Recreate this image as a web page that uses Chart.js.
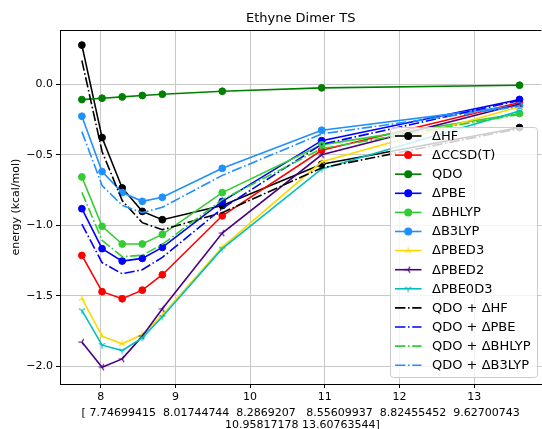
<!DOCTYPE html>
<html>
<head>
<meta charset="utf-8">
<script src="https://cdn.jsdelivr.net/npm/chart.js@4.4.1/dist/chart.umd.min.js"></script>
<style>
html,body{margin:0;padding:0;background:#fff;overflow:hidden;}
#wrap{width:542px;height:429px;overflow:hidden;position:relative;}
canvas{display:block;}
</style>
</head>
<body>
<div id="wrap"><canvas id="c" width="548" height="432" style="width:548px;height:432px"></canvas></div>
<script>
// ---- data ----
const distances = [7.74699415, 8.01744744, 8.2869207, 8.55609937, 8.82455452, 9.62700743, 10.95817178, 13.60763544];
const dHF     = [0.277, -0.378, -0.735, -0.901, -0.960, -0.860, -0.567, -0.307];
const dCCSDT  = [-1.213, -1.470, -1.520, -1.459, -1.350, -0.932, -0.468, -0.130];
const qdo     = [-0.109, -0.099, -0.090, -0.080, -0.071, -0.050, -0.026, -0.007];
const dPBE    = [-0.882, -1.165, -1.253, -1.234, -1.156, -0.830, -0.400, -0.108];
const dBHLYP  = [-0.657, -1.007, -1.132, -1.132, -1.064, -0.768, -0.430, -0.207];
const dB3LYP  = [-0.227, -0.619, -0.768, -0.830, -0.801, -0.596, -0.326, -0.150];
const dPBED3  = [-1.518, -1.785, -1.839, -1.773, -1.635, -1.154, -0.550, -0.160];
const dPBED2  = [-1.827, -2.005, -1.946, -1.785, -1.591, -1.055, -0.500, -0.140];
const dPBE0D3 = [-1.603, -1.849, -1.887, -1.797, -1.648, -1.165, -0.600, -0.190];
const qdoHF    = [0.168, -0.477, -0.825, -0.981, -1.031, -0.910, -0.593, -0.314];
const qdoPBE   = [-0.991, -1.264, -1.343, -1.314, -1.227, -0.880, -0.426, -0.115];
const qdoBHLYP = [-0.766, -1.106, -1.222, -1.212, -1.135, -0.818, -0.456, -0.214];
const qdoB3LYP = [-0.336, -0.718, -0.858, -0.910, -0.872, -0.646, -0.352, -0.157];
const xTicks = [8, 9, 10, 11, 12, 13];
const yTicks = [-2.0, -1.5, -1.0, -0.5, 0.0];
const chartTitle = 'Ethyne Dimer TS';
const yLabel = 'energy (kcal/mol)';
const xLabel = ['[ 7.74699415  8.01744744  8.2869207   8.55609937  8.82455452  9.62700743', ' 10.95817178 13.60763544]'];

// ---- styling ----
const FONT = 'DejaVu Sans';
const DASHDOT = [10.4, 2.6, 1.6, 2.6];
function triMarker(color, angles) {
  const c = document.createElement('canvas');
  c.width = 10; c.height = 10;
  const g = c.getContext('2d');
  g.strokeStyle = color; g.lineWidth = 1.1; g.lineCap = 'butt';
  g.beginPath();
  angles.forEach(a => {
    const r = a * Math.PI / 180;
    g.moveTo(5, 5);
    g.lineTo(5 + 3.6 * Math.cos(r), 5 - 3.6 * Math.sin(r));
  });
  g.stroke();
  return c;
}
const TRI_UP = [90, 210, 330];
const TRI_DOWN = [270, 30, 150];
const TRI_LEFT = [180, 60, 300];

function pts(arr) { return arr.map((v, i) => ({x: distances[i], y: v})); }

const series = [
  {label: 'ΔHF', data: dHF, color: '#000000', marker: 'circle'},
  {label: 'ΔCCSD(T)', data: dCCSDT, color: '#ff0000', marker: 'circle'},
  {label: 'QDO', data: qdo, color: '#008000', marker: 'circle'},
  {label: 'ΔPBE', data: dPBE, color: '#0000ff', marker: 'circle'},
  {label: 'ΔBHLYP', data: dBHLYP, color: '#32cd32', marker: 'circle'},
  {label: 'ΔB3LYP', data: dB3LYP, color: '#1e90ff', marker: 'circle'},
  {label: 'ΔPBED3', data: dPBED3, color: '#ffd700', marker: TRI_UP},
  {label: 'ΔPBED2', data: dPBED2, color: '#4b0082', marker: TRI_LEFT},
  {label: 'ΔPBE0D3', data: dPBE0D3, color: '#00bfbf', marker: TRI_DOWN},
  {label: 'QDO + ΔHF', data: qdoHF, color: '#000000', marker: null, dash: true},
  {label: 'QDO + ΔPBE', data: qdoPBE, color: '#0000ff', marker: null, dash: true},
  {label: 'QDO + ΔBHLYP', data: qdoBHLYP, color: '#32cd32', marker: null, dash: true},
  {label: 'QDO + ΔB3LYP', data: qdoB3LYP, color: '#1e90ff', marker: null, dash: true}
];

const datasets = series.map((s, i) => {
  const ds = {
    label: s.label,
    data: pts(s.data),
    borderColor: s.color,
    backgroundColor: s.color,
    borderWidth: 1.6,
    borderDash: s.dash ? DASHDOT : [],
    tension: 0,
    fill: false,
    order: series.length - i
  };
  if (s.marker === 'circle') {
    ds.pointStyle = 'circle'; ds.pointRadius = 3.4; ds.pointBorderWidth = 1;
    ds.pointBackgroundColor = s.color; ds.pointBorderColor = s.color;
  } else if (s.marker) {
    ds.pointStyle = triMarker(s.color, s.marker); ds.pointRadius = 5;
  } else {
    ds.pointRadius = 0;
  }
  ds.pointHoverRadius = ds.pointRadius;
  return ds;
});

const extrasPlugin = {
  id: 'extras',
  afterDraw(chart) {
    const ctx = chart.ctx, a = chart.chartArea;
    ctx.save();
    // top spine
    ctx.strokeStyle = '#000'; ctx.lineWidth = 1;
    ctx.beginPath(); ctx.moveTo(a.left, a.top + 0.5); ctx.lineTo(a.right, a.top + 0.5); ctx.stroke();
    // title
    ctx.fillStyle = '#000';
    ctx.font = '13px "' + FONT + '"';
    ctx.textAlign = 'center'; ctx.textBaseline = 'middle';
    ctx.fillText(chartTitle, (a.left + a.right) / 2, 19);
    // legend
    const bx = 390, by = 127, bw = 147, bh = 250;
    ctx.beginPath();
    ctx.roundRect(bx + 0.5, by + 0.5, bw, bh, 3);
    ctx.fillStyle = 'rgba(255,255,255,0.8)';
    ctx.fill();
    ctx.strokeStyle = '#cccccc'; ctx.lineWidth = 1;
    ctx.stroke();
    ctx.font = '13px "' + FONT + '"';
    ctx.textAlign = 'left'; ctx.textBaseline = 'middle';
    chart.data.datasets.forEach((ds, i) => {
      const y = 136 + i * 19.1;
      ctx.strokeStyle = ds.borderColor; ctx.lineWidth = ds.borderWidth;
      ctx.setLineDash(ds.borderDash || []);
      ctx.beginPath(); ctx.moveTo(395, y); ctx.lineTo(421.5, y); ctx.stroke();
      ctx.setLineDash([]);
      if (ds.pointRadius > 0) {
        if (ds.pointStyle === 'circle') {
          ctx.fillStyle = ds.borderColor;
          ctx.beginPath(); ctx.arc(408.2, y, 4, 0, Math.PI * 2); ctx.fill();
        } else {
          ctx.drawImage(ds.pointStyle, 408.2 - 5, y - 5);
        }
      }
      ctx.fillStyle = '#000';
      ctx.fillText(ds.label, 432, y + 0.5);
    });
    ctx.restore();
  }
};

new Chart(document.getElementById('c'), {
  type: 'line',
  data: {datasets},
  options: {
    responsive: false,
    animation: false,
    devicePixelRatio: 1,
    events: [],
    layout: {padding: {top: 30, right: 5, left: 0, bottom: 0}},
    plugins: {legend: {display: false}, title: {display: false}, tooltip: {enabled: false}},
    scales: {
      x: {
        type: 'linear',
        min: 7.4540, max: 13.9007,
        afterFit(s) { s.height = 48; },
        afterBuildTicks(s) { s.ticks = xTicks.map(v => ({value: v})); },
        ticks: {color: '#000', font: {family: FONT, size: 11}, padding: 3, maxRotation: 0, autoSkip: false,
                callback: v => String(v)},
        grid: {color: '#c8c8c8', lineWidth: 1, tickColor: '#000', tickLength: 4, tickWidth: 1},
        border: {color: '#000', width: 1},
        title: {display: true, text: xLabel, color: '#000', font: {family: FONT, size: 11, lineHeight: 1.064},
                padding: {top: 0, bottom: 1.45}}
      },
      y: {
        type: 'linear',
        min: -2.124, max: 0.384,
        afterFit(s) { s.width = 60; },
        afterBuildTicks(s) { s.ticks = yTicks.map(v => ({value: v})); },
        ticks: {color: '#000', font: {family: FONT, size: 11}, padding: 3, autoSkip: false,
                callback: v => (v < 0 ? '\u2212' : '') + Math.abs(v).toFixed(1)},
        grid: {color: '#c8c8c8', lineWidth: 1, tickColor: '#000', tickLength: 4, tickWidth: 1},
        border: {color: '#000', width: 1},
        title: {display: true, text: yLabel, color: '#000', font: {family: FONT, size: 11, lineHeight: 1.2},
                padding: {top: 9.4, bottom: 0}}
      }
    }
  },
  plugins: [extrasPlugin]
});
</script>
</body>
</html>
